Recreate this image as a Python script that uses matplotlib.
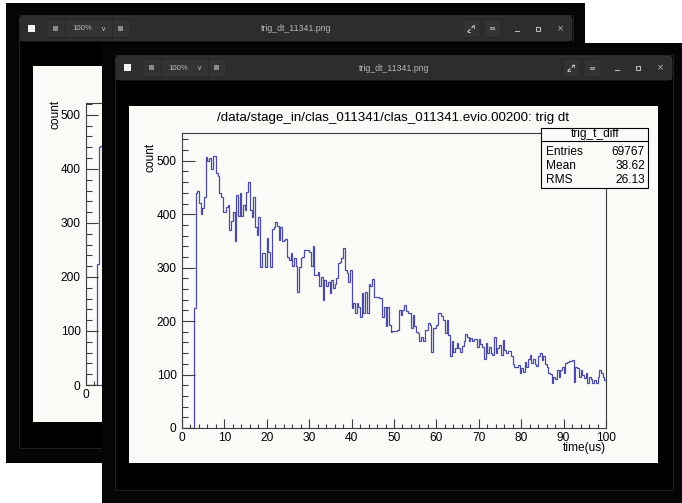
import numpy as np
import matplotlib.pyplot as plt
from matplotlib.patches import Rectangle, FancyBboxPatch
from matplotlib.ticker import MultipleLocator

plt.rcParams['font.family'] = ['Liberation Sans', 'DejaVu Sans']

W, H = 682, 503

# trig_t_diff histogram, 250 bins of 0.4 us between 0 and 100 us
bin_width = 0.4
counts = [
    0, 0, 0, 0, 0, 0, 0, 224,
    440, 443, 421, 401, 411, 432, 508, 499, 505, 484,
    509, 509, 478, 471, 440, 433, 405, 405, 414, 418,
    370, 388, 405, 349, 436, 397, 440, 397, 418, 408,
    441, 461, 407, 394, 433, 376, 361, 394, 302, 328,
    327, 302, 356, 330, 302, 372, 377, 385, 378, 352,
    377, 349, 352, 353, 320, 315, 328, 303, 318, 303,
    255, 302, 318, 320, 333, 333, 333, 330, 303, 341,
    287, 287, 291, 266, 282, 240, 277, 265, 274, 252,
    277, 262, 270, 280, 308, 311, 318, 336, 296, 290,
    274, 296, 224, 233, 215, 233, 227, 208, 253, 215,
    255, 215, 270, 265, 278, 246, 246, 246,
    243, 243, 208, 227, 190, 227, 193, 180, 182, 182,
    182, 184, 220, 212, 221, 230, 218, 216, 216, 187,
    212, 191, 180, 177, 162, 171, 162, 184, 184, 197,
    193, 143, 187, 187, 193, 215, 215, 210, 202, 177,
    202, 174, 134, 162, 143, 149, 159, 149, 143, 154,
    162, 176, 171, 162, 168, 162, 166, 166, 152, 166,
    157, 152, 130, 159, 140, 152, 140, 137, 170, 140,
    149, 155, 137, 165, 146, 140, 145, 145, 134, 120,
    115, 115, 118, 102, 112, 105, 124, 115, 130, 137,
    121, 130, 120, 116, 134, 140, 127, 134, 120, 115,
    102, 101, 84, 96, 91, 109, 95, 109, 115, 102,
    122, 124, 126, 126, 127, 87, 115, 112, 95, 109,
    99, 93, 102, 84, 96, 91, 84, 90, 84, 96,
    109, 102, 95, 90,
]
entries = 69767
mean = 38.62
rms = 26.13

plot_title = "/data/stage_in/clas_011341/clas_011341.evio.00200: trig dt"
hist_name = "trig_t_diff"
x_label = "time(us)"
y_label = "count"
window_title = "trig_dt_11341.png"
zoom_text = "100%"
x_ticks = [0, 10, 20, 30, 40, 50, 60, 70, 80, 90, 100]
y_ticks = [0, 100, 200, 300, 400, 500]

CANVAS = '#fafaf6'
LINE = '#4b4ba6'
FRAME = '#3c3c3c'
BAR = '#2d2d2d'
ICON = '#b8b8b8'

fig = plt.figure(figsize=(W / 100, H / 100), dpi=100)
fig.patch.set_facecolor('white')


def px_axes(z):
    ax = fig.add_axes([0, 0, 1, 1], zorder=z)
    ax.set_xlim(0, W)
    ax.set_ylim(H, 0)
    ax.axis('off')
    return ax


def frac(left, top, right, bottom):
    return [left / W, 1 - bottom / H, (right - left) / W, (bottom - top) / H]


def draw_window(ax, shadow, frame, bar, canvas):
    sx0, sy0, sx1, sy1 = shadow
    ax.add_patch(Rectangle((sx0, sy0), sx1 - sx0, sy1 - sy0, fc='#050505', ec='none'))
    fx0, fy0, fx1, fy1 = frame
    ax.add_patch(Rectangle((fx0, fy0), fx1 - fx0, fy1 - fy0, fc='#000000', ec='#1e1e1e', lw=0.8))
    bx0, by0, bx1, by1 = bar
    ax.add_patch(FancyBboxPatch((bx0, by0), bx1 - bx0, by1 - by0,
                                boxstyle='round,pad=0,rounding_size=4', fc=BAR, ec='#3a3a3a', lw=0.5))
    ax.add_patch(Rectangle((bx0, by0 + 8), bx1 - bx0, by1 - by0 - 8, fc=BAR, ec='none'))
    cy = (by0 + by1) / 2
    # left controls
    ax.add_patch(Rectangle((bx0 + 8, cy - 4), 7, 7, fc='#f2f2f2', ec='none'))
    ax.add_patch(FancyBboxPatch((bx0 + 27, cy - 9), 83, 18,
                                boxstyle='round,pad=0,rounding_size=2', fc='#333333', ec='#262626', lw=0.6))
    ax.plot([bx0 + 45, bx0 + 45], [cy - 9, cy + 9], color='#262626', lw=0.6)
    ax.plot([bx0 + 92, bx0 + 92], [cy - 9, cy + 9], color='#262626', lw=0.6)
    ax.add_patch(Rectangle((bx0 + 33, cy - 3), 5, 5, fc='#8a8a8a', ec='none'))
    ax.add_patch(Rectangle((bx0 + 98, cy - 3), 5, 5, fc='#8a8a8a', ec='none'))
    ax.text(bx0 + 62, cy, zoom_text, color=ICON, fontsize=5.6, ha='center', va='center')
    ax.text(bx0 + 83, cy, '\u2228', color=ICON, fontsize=5, ha='center', va='center',
            family=['DejaVu Sans'])
    ax.text((bx0 + bx1) / 2, cy, window_title, color=ICON, fontsize=6.3, ha='center', va='center')
    # right controls
    for off in (101, 80):
        ax.add_patch(FancyBboxPatch((bx1 - off - 8, cy - 9), 17, 18,
                                    boxstyle='round,pad=0,rounding_size=2', fc='#333333',
                                    ec='#262626', lw=0.6))
    # expand icon: two small diagonal arrow heads
    ex = bx1 - 101
    ax.plot([ex - 3, ex - 1], [cy + 3, cy + 1], color=ICON, lw=0.9)
    ax.plot([ex + 1, ex + 3], [cy - 1, cy - 3], color=ICON, lw=0.9)
    ax.plot([ex - 3, ex - 3, ex - 1], [cy + 1, cy + 3, cy + 3], color=ICON, lw=0.7)
    ax.plot([ex + 1, ex + 3, ex + 3], [cy - 3, cy - 3, cy - 1], color=ICON, lw=0.7)
    ax.text(bx1 - 80, cy, '\u2261', color=ICON, fontsize=6, ha='center', va='center',
            family=['DejaVu Sans'])
    ax.plot([bx1 - 57, bx1 - 53], [cy + 2, cy + 2], color=ICON, lw=0.8)
    ax.add_patch(Rectangle((bx1 - 36, cy - 2), 4, 4, fc='none', ec=ICON, lw=0.8))
    ax.text(bx1 - 12, cy, '\u00d7', color=ICON, fontsize=6, ha='center', va='center',
            family=['DejaVu Sans'])
    x0, y0, x1, y1 = canvas
    ax.add_patch(Rectangle((x0, y0), x1 - x0, y1 - y0, fc=CANVAS, ec='none'))


def style_hist_axes(ax, ymax, xlen_px, ylen_px):
    edges = np.arange(len(counts) + 1) * bin_width
    ax.stairs(counts, edges, baseline=None, color=LINE, lw=0.9)
    ax.set_xlim(0, 100)
    ax.set_ylim(0, ymax)
    ax.set_facecolor(CANVAS)
    for s in ax.spines.values():
        s.set_color(FRAME)
        s.set_linewidth(0.8)
    ax.set_xticks(x_ticks)
    ax.set_yticks(y_ticks)
    ax.xaxis.set_minor_locator(MultipleLocator(2))
    ax.yaxis.set_minor_locator(MultipleLocator(20))
    ax.tick_params(axis='x', which='major', direction='in', length=0.03 * ylen_px * 0.72,
                   width=0.8, color=FRAME, labelsize=8.6, pad=3)
    ax.tick_params(axis='x', which='minor', direction='in', length=0.015 * ylen_px * 0.72,
                   width=0.8, color=FRAME)
    ax.tick_params(axis='y', which='major', direction='in', length=0.03 * xlen_px * 0.72,
                   width=0.8, color=FRAME, labelsize=8.6, pad=4)
    ax.tick_params(axis='y', which='minor', direction='in', length=0.015 * xlen_px * 0.72,
                   width=0.8, color=FRAME)


# back window
back = px_axes(0)
draw_window(back, (6, 3, 585, 463), (19, 15, 573, 448), (20, 16, 572, 41), (33, 66, 559, 422))
ax_back = fig.add_axes(frac(86, 103, 479, 385), zorder=1)
style_hist_axes(ax_back, 522, 393, 282)
ax_back.text(-0.078, 1.01, y_label, transform=ax_back.transAxes, rotation=90,
             ha='center', va='top', fontsize=8.6)

# front window
front = px_axes(2)
draw_window(front, (102, 43, 682, 503), (115, 55, 673, 490), (116, 56, 672, 80), (129, 106, 658, 463))
ax = fig.add_axes(frac(182, 133, 606, 428), zorder=3)
style_hist_axes(ax, 552, 424, 295)
ax.text(-0.074, 0.966, y_label, transform=ax.transAxes, rotation=90,
        ha='center', va='top', fontsize=8.6)
ax.text(1.0, -0.068, x_label, transform=ax.transAxes, ha='right', va='center', fontsize=8.6)

# title and stats box
top = px_axes(4)
top.text(393, 118, plot_title, ha='center', va='center', fontsize=9.6)
top.add_patch(Rectangle((541, 128), 107, 60, fc=CANVAS, ec='black', lw=0.8))
top.plot([541, 648], [141, 141], color='black', lw=0.8)
top.text(595, 134.5, hist_name, ha='center', va='center', fontsize=8.6)
rows = [("Entries", f"{entries}"), ("Mean", f"{mean:.2f}"), ("RMS", f"{rms:.2f}")]
for i, (name, val) in enumerate(rows):
    y = 152 + 14 * i
    top.text(546, y, name, ha='left', va='center', fontsize=8.6)
    top.text(645, y, val, ha='right', va='center', fontsize=8.6)

fig.savefig('out.png', dpi=100)
